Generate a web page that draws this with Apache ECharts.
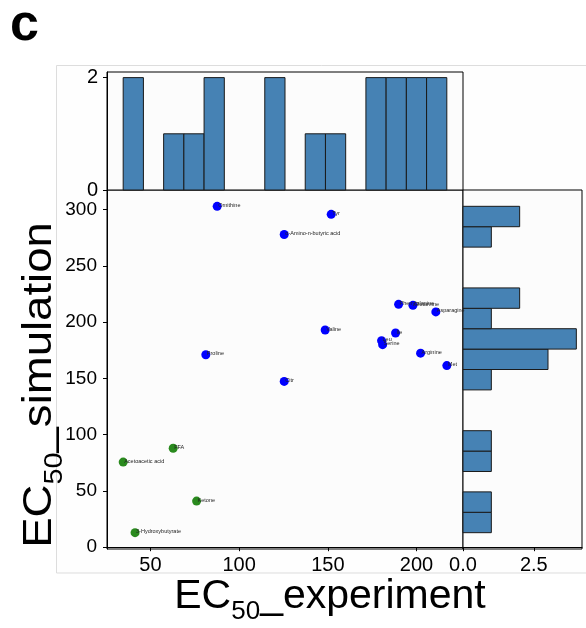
<!DOCTYPE html>
<html><head><meta charset="utf-8">
<script src="https://cdn.jsdelivr.net/npm/echarts@6/dist/echarts.min.js"></script>
<style>html,body{margin:0;padding:0;background:#fff}#c{width:586px;height:628px}</style>
</head><body><div id="c"></div>
<script>
// ---- data ----
const aminoNames = ['Ornithine','Tyr','α-Amino-n-butyric acid','Phenylalanine','Glutamine','Asparagine','Valine','Ile','Leu','Serine','Arginine','Met','Proline','Citr'];
const aminoExperiment = [87.6,151.9,125.4,189.9,198.0,210.9,148.5,188.2,180.3,180.9,202.3,217.1,81.2,125.4];
const aminoSimulation = [302.9,295.8,277.9,215.8,214.9,209.1,193.0,190.3,183.5,180.0,172.4,161.4,171.0,147.3];
const otherNames = ['FFA','Acetoacetic acid','Ketone','3-Hydroxybutyrate'];
const otherExperiment = [62.8,34.6,76.0,41.3];
const otherSimulation = [87.9,75.6,41.0,12.9];
const binCount = 16;
const topHistCounts = [2,0,1,1,2,0,0,2,0,1,1,0,2,2,2,2];
const rightHistCounts = [1,1,0,1,1,0,0,1,3,4,1,2,0,0,1,2];
const xTicks = [50,100,150,200];
const yTicks = [0,50,100,150,200,250,300];
const topHistTicks = [0,2];
const rightHistTicks = [0,2.5];

// ---- derived ----
const allX = aminoExperiment.concat(otherExperiment);
const allY = aminoSimulation.concat(otherSimulation);
const xMin = Math.min(...allX), xMax = Math.max(...allX);
const yMin = Math.min(...allY), yMax = Math.max(...allY);
const xBin = (xMax - xMin) / binCount, yBin = (yMax - yMin) / binCount;
const xPad = (xMax - xMin) * 0.05, yPad = (yMax - yMin) * 0.05;
const topMax = Math.max(...topHistCounts) * 1.05;
const rightMax = Math.max(...rightHistCounts) * 1.05;

const FONT = 'Liberation Sans, Arial, sans-serif';
const tickLabel = {color:'#000', fontSize:19, fontFamily:FONT};

function pts(xs, ys, ns){ return xs.map((x,i)=>({name:ns[i], value:[x, ys[i]]})); }

const chart = echarts.init(document.getElementById('c'), null, {renderer:'canvas'});
const gridStyle = {show:true, borderColor:'#000', borderWidth:1, backgroundColor:'#fcfcfc', containLabel:false};
const pointLabel = {show:true, formatter:'{b}', position:['50%','50%'], offset:[1,-1], align:'left', verticalAlign:'middle',
                    fontSize:5.5, color:'#222', fontFamily:FONT};
function histRectStyle(){ return {fill:'#4682b4', stroke:'#1a1a1a', lineWidth:1}; }

chart.setOption({
  animation:false,
  backgroundColor:'#fff',
  grid:[
    Object.assign({left:107, top:190, width:356, bottom:79}, gridStyle),
    Object.assign({left:107, top:72, width:356, height:118}, gridStyle),
    Object.assign({left:463, top:190, width:119, bottom:79}, gridStyle)
  ],
  xAxis:[
    {gridIndex:0, type:'value', min:xMin-xPad, max:xMax+xPad,
     axisLine:{show:true, lineStyle:{color:'#000', width:1}},
     axisTick:{show:true, length:4, customValues:xTicks, lineStyle:{color:'#000'}},
     axisLabel:Object.assign({}, tickLabel, {customValues:xTicks, margin:6, fontSize:20}),
     splitLine:{show:false}},
    {gridIndex:1, type:'value', min:xMin-xPad, max:xMax+xPad,
     axisLine:{show:false}, axisTick:{show:false}, axisLabel:{show:false}, splitLine:{show:false}},
    {gridIndex:2, type:'value', min:0, max:rightMax,
     axisLine:{show:true, lineStyle:{color:'#000', width:1}},
     axisTick:{show:true, length:4, customValues:rightHistTicks, lineStyle:{color:'#000'}},
     axisLabel:Object.assign({}, tickLabel, {customValues:rightHistTicks, margin:6, fontSize:20, formatter:v=>v.toFixed(1)}),
     splitLine:{show:false}}
  ],
  yAxis:[
    {gridIndex:0, type:'value', min:yMin-yPad, max:yMax+yPad,
     axisLine:{show:true, lineStyle:{color:'#000', width:1}},
     axisTick:{show:true, length:4, customValues:yTicks, lineStyle:{color:'#000'}},
     axisLabel:Object.assign({}, tickLabel, {customValues:yTicks, margin:10}),
     splitLine:{show:false}},
    {gridIndex:1, type:'value', min:0, max:topMax,
     axisLine:{show:true, lineStyle:{color:'#000', width:1}},
     axisTick:{show:true, length:4, customValues:topHistTicks, lineStyle:{color:'#000'}},
     axisLabel:Object.assign({}, tickLabel, {customValues:topHistTicks, margin:9, fontSize:20}),
     splitLine:{show:false}},
    {gridIndex:2, type:'value', min:yMin-yPad, max:yMax+yPad,
     axisLine:{show:false}, axisTick:{show:false}, axisLabel:{show:false}, splitLine:{show:false}}
  ],
  series:[
    {type:'scatter', xAxisIndex:0, yAxisIndex:0, symbolSize:9,
     itemStyle:{color:'#0000ff', opacity:1}, label:pointLabel,
     data:pts(aminoExperiment, aminoSimulation, aminoNames)},
    {type:'scatter', xAxisIndex:0, yAxisIndex:0, symbolSize:9,
     itemStyle:{color:'#2a8a1e', opacity:1}, label:pointLabel,
     data:pts(otherExperiment, otherSimulation, otherNames)},
    {type:'custom', xAxisIndex:1, yAxisIndex:1,
     data:topHistCounts.map((c,i)=>[xMin+i*xBin, xMin+(i+1)*xBin, c]),
     encode:{x:[0,1], y:2},
     renderItem:function(params, api){
       const c = api.value(2); if(!c) return null;
       const p0 = api.coord([api.value(0), c]);
       const p1 = api.coord([api.value(1), 0]);
       return {type:'rect', shape:{x:p0[0], y:p0[1], width:p1[0]-p0[0], height:p1[1]-p0[1]}, style:histRectStyle()};
     }},
    {type:'custom', xAxisIndex:2, yAxisIndex:2,
     data:rightHistCounts.map((c,i)=>[c, yMin+i*yBin, yMin+(i+1)*yBin]),
     encode:{x:0, y:[1,2]},
     renderItem:function(params, api){
       const c = api.value(0); if(!c) return null;
       const p0 = api.coord([0, api.value(2)]);
       const p1 = api.coord([c, api.value(1)]);
       return {type:'rect', shape:{x:p0[0], y:p0[1], width:p1[0]-p0[0], height:p1[1]-p0[1]}, style:histRectStyle()};
     }}
  ],
  graphic:[
    {type:'rect', z:-10, shape:{x:56.5, y:65.5, width:540, height:507.5}, style:{fill:'#fefefe', stroke:'#dddddd', lineWidth:1}},
    {type:'text', left:10, top:0, style:{text:'c', fontSize:52, fontWeight:'bold', fontFamily:FONT, fill:'#000'}},
    {type:'text', x:330, y:617, style:{text:'{a|EC}{s|50}{a|_experiment}', align:'center', verticalAlign:'bottom',
      rich:{a:{fontSize:41, fontFamily:FONT, color:'#000'}, s:{fontSize:26, fontFamily:FONT, color:'#000', verticalAlign:'bottom', padding:[0,0,-8,0]}}}},
    {type:'text', x:60, y:385, rotation:Math.PI/2, scaleX:1.11, style:{text:'{a|EC}{s|50}{a|_simulation}', align:'center', verticalAlign:'bottom',
      rich:{a:{fontSize:41, fontFamily:FONT, color:'#000'}, s:{fontSize:26, fontFamily:FONT, color:'#000', verticalAlign:'bottom', padding:[0,0,-8,0]}}}}
  ]
});
</script>
</body></html>
